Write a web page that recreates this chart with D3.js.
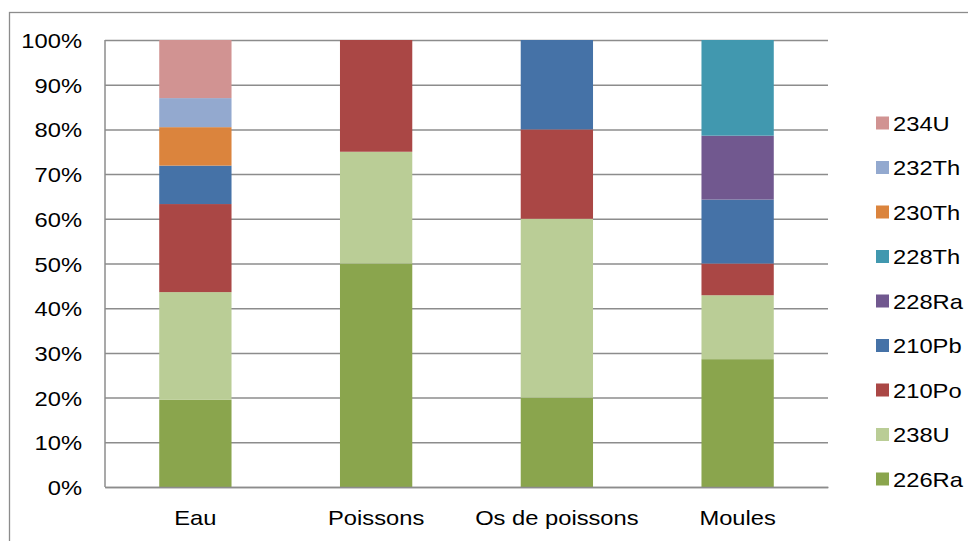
<!DOCTYPE html>
<html>
<head>
<meta charset="utf-8">
<script src="https://cdn.jsdelivr.net/npm/d3@7"></script>
<style>
	body { margin: 0; background: #fff; }
	svg text { font-family: "Liberation Sans", Arial, sans-serif; fill: #000; }
</style>
</head>
<body>
<div id="chart"></div>
<script>
// categories (x axis)
let categories = ["Eau", "Poissons", "Os de poissons", "Moules"];

// series, bottom to top (percent share of each sample)
let series_keys = ["226Ra", "238U", "210Po", "210Pb", "228Ra", "228Th", "230Th", "232Th", "234U"];
let ra226 = [19.5, 50, 20, 28.6];
let u238  = [24.1, 25, 40, 14.3];
let po210 = [19.7, 25, 20, 7.1];
let pb210 = [8.6, 0, 20, 14.3];
let ra228 = [0, 0, 0, 14.3];
let th228 = [0, 0, 0, 21.4];
let th230 = [8.6, 0, 0, 0];
let th232 = [6.5, 0, 0, 0];
let u234  = [13, 0, 0, 0];

let y_ticks = [0, 0.1, 0.2, 0.3, 0.4, 0.5, 0.6, 0.7, 0.8, 0.9, 1];

let colors = {
	"226Ra": "#8aa54d",
	"238U": "#bacd96",
	"210Po": "#aa4745",
	"210Pb": "#4572a7",
	"228Ra": "#71588f",
	"228Th": "#4198af",
	"230Th": "#db843d",
	"232Th": "#93a9cf",
	"234U": "#d19392"
};

function chart() {
	let W = 968, H = 541;
	let margin = {top: 40, right: 140, bottom: 54, left: 105},
		width = 828 - margin.left,
		height = 487 - margin.top;
	let stretch = 1.13; // text in the reference is slightly wider than tall

	let values = [ra226, u238, po210, pb210, ra228, th228, th230, th232, u234];
	let table = categories.map(function (c, i) {
		let row = {category: c};
		series_keys.forEach(function (k, j) { row[k] = values[j][i]; });
		return row;
	});

	let stacked = d3.stack()
		.keys(series_keys)
		.offset(d3.stackOffsetExpand)(table);

	let svg = d3.select("#chart")
		.append("svg")
		.attr("width", W)
		.attr("height", H);

	// outer frame
	svg.append("rect")
		.attr("x", 9.5).attr("y", 12.5)
		.attr("width", 1000).attr("height", 600)
		.attr("fill", "none")
		.attr("stroke", "#8c8c8c")
		.attr("stroke-width", 1.3);

	let plot = svg.append("g")
		.attr("transform", "translate(" + margin.left + "," + margin.top + ")");

	let x = d3.scaleBand()
		.domain(categories)
		.range([0, width])
		.paddingInner(0.6)
		.paddingOuter(0.3);

	let y = d3.scaleLinear()
		.domain([0, 1])
		.range([height, 0]);

	// gridlines + y labels
	let yAxis = plot.append("g")
		.call(d3.axisLeft(y)
			.tickValues(y_ticks)
			.tickSize(-width)
			.tickPadding(0)
			.tickFormat(d3.format(".0%")));
	yAxis.select(".domain").remove();
	yAxis.selectAll(".tick line")
		.attr("stroke", "#8c8c8c")
		.attr("stroke-width", 1.5);
	yAxis.selectAll(".tick text")
		.attr("x", 0)
		.attr("dy", "0.36em")
		.attr("transform", "translate(-23,0) scale(" + stretch + ",1)")
		.style("font-size", "21px")
		.attr("fill", "#000");

	// left axis line
	plot.append("line")
		.attr("x1", 0).attr("x2", 0)
		.attr("y1", 0).attr("y2", height)
		.attr("stroke", "#8c8c8c")
		.attr("stroke-width", 1.5);

	// bars
	let layers = plot.append("g")
		.selectAll("g")
		.data(stacked)
		.enter()
		.append("g")
		.attr("fill", function (d) { return colors[d.key]; });

	layers.selectAll("rect")
		.data(function (d) { return d; })
		.enter()
		.append("rect")
		.attr("x", function (d) { return x(d.data.category); })
		.attr("y", function (d) { return y(d[1]); })
		.attr("width", x.bandwidth())
		.attr("height", function (d) { return y(d[0]) - y(d[1]); });

	// bottom axis
	let xAxis = plot.append("g")
		.attr("transform", "translate(0," + height + ")")
		.call(d3.axisBottom(x).tickSize(0).tickPadding(0));
	xAxis.select(".domain")
		.attr("stroke", "#8c8c8c")
		.attr("stroke-width", 1.5);
	xAxis.selectAll(".tick text")
		.attr("y", 0)
		.attr("dy", "0.36em")
		.attr("transform", "translate(0,30) scale(" + stretch + ",1)")
		.style("font-size", "21px")
		.attr("fill", "#000");

	// legend
	let legend_y = d3.scalePoint()
		.domain(series_keys.slice().reverse())
		.range([123, 479]);

	let legend = svg.append("g")
		.selectAll("g")
		.data(series_keys.slice().reverse())
		.enter()
		.append("g")
		.attr("transform", function (d) { return "translate(876," + legend_y(d) + ")"; });

	legend.append("rect")
		.attr("x", 0).attr("y", -6.5)
		.attr("width", 13).attr("height", 13)
		.attr("fill", function (d) { return colors[d]; });

	legend.append("text")
		.text(function (d) { return d; })
		.attr("dy", "0.36em")
		.attr("transform", "translate(17,0) scale(" + stretch + ",1)")
		.style("font-size", "21px");
}

chart();
</script>
</body>
</html>
